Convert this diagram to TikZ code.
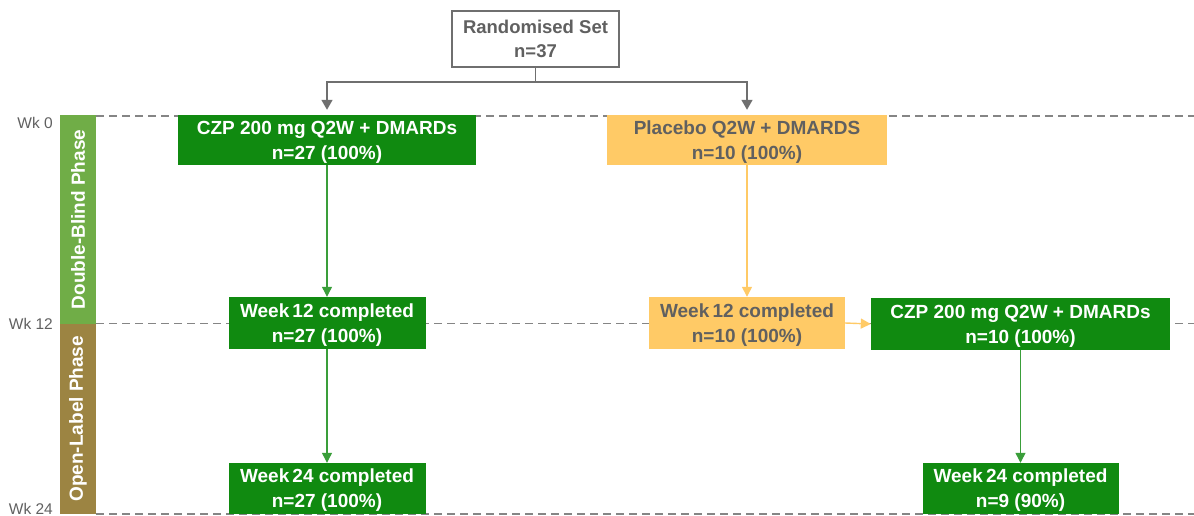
\documentclass[tikz,border=0pt]{standalone}
\usepackage{fontspec}
\setmainfont{Liberation Sans}
\usetikzlibrary{arrows.meta}
\definecolor{dgreen}{HTML}{108A10}
\definecolor{lgreen}{HTML}{3A9E3A}
\definecolor{phgreen}{HTML}{70AD47}
\definecolor{phbrown}{HTML}{9C8442}
\definecolor{yel}{HTML}{FFCA66}
\definecolor{gtext}{HTML}{606060}
\definecolor{gline}{HTML}{6F6F6F}
\definecolor{dline}{HTML}{858585}
\tikzset{
  box/.style={rectangle, inner sep=0pt, align=center, text depth=0pt, font=\bfseries\fontsize{19}{25}\selectfont},
  gbox/.style={box, fill=dgreen, text=white},
  ybox/.style={box, fill=yel, text=gtext},
  wbox/.style={box, draw=gline, line width=2.4pt, fill=white, text=gtext, font=\bfseries\fontsize{18.5}{24}\selectfont},
  phase/.style={rectangle, inner sep=0pt, minimum width=36pt},
  phtext/.style={rotate=90, text=white, font=\bfseries\fontsize{19}{22}\selectfont},
  wk/.style={anchor=east, text=gtext, font=\fontsize{15.5}{18}\selectfont, inner sep=0pt},
  wkline/.style={draw=dline, line width=1.2pt, dash pattern=on 8pt off 5pt},
  garr/.style={draw=lgreen, line width=1.2pt, -{Triangle[length=10pt,width=10pt]}},
  yarr/.style={draw=yel, line width=1.4pt, -{Triangle[length=10pt,width=10pt]}},
  karr/.style={draw=gline, line width=1.5pt, -{Triangle[length=10pt,width=11pt]}},
}
\begin{document}
\begin{tikzpicture}[x=1pt,y=-1pt]
\useasboundingbox (0,0) rectangle (1194,516);
% week lines
\coordinate (l0a) at (96,116); \coordinate (l0b) at (1194,116);
\coordinate (l12a) at (96,323.5); \coordinate (l12b) at (1194,323.5);
\coordinate (l24a) at (96,514); \coordinate (l24b) at (1194,514);
\draw[wkline] (l0a) -- (l0b);
\draw[wkline] (l12a) -- (l12b);
\draw[wkline] (l24a) -- (l24b);
% phase bars
\node[phase, fill=phgreen, minimum height=208pt] (db) at (78,219.5) {};
\node[phtext] (dbt) at (db.center) {Double-Blind Phase};
\node[phase, fill=phbrown, minimum height=190.5pt] (ol) at (78,418.75) {};
\node[phtext] (olt) at (ol.center) {Open-Label Phase};
% week labels
\node[wk] (w0) at (53,123) {Wk 0};
\node[wk] (w12) at (53,324) {Wk 12};
\node[wk] (w24) at (53,508.5) {Wk 24};
% boxes
\node[wbox, minimum width=167pt, minimum height=56pt] (rand) at (535.5,39) {Randomised Set\\n=37};
\node[gbox, minimum width=298pt, minimum height=50pt] (czp1) at (327,140) {CZP 200 mg Q2W + DMARDs\\n=27 (100\%)};
\node[ybox, minimum width=280pt, minimum height=50pt] (plc) at (747,140) {Placebo Q2W + DMARDS\\n=10 (100\%)};
\node[gbox, minimum width=197pt, minimum height=52pt] (w12a) at (327,323) {Week\,12 completed\\n=27 (100\%)};
\node[gbox, minimum width=197pt, minimum height=51pt] (w24a) at (327,488.5) {Week\,24 completed\\n=27 (100\%)};
\node[ybox, minimum width=196pt, minimum height=52pt] (w12b) at (747,323) {Week\,12 completed\\n=10 (100\%)};
\node[gbox, minimum width=299pt, minimum height=52pt] (czp2) at (1020.5,324) {CZP 200 mg Q2W + DMARDs\\n=10 (100\%)};
\node[gbox, minimum width=196pt, minimum height=51pt] (w24b) at (1020.5,488.5) {Week\,24 completed\\n=9 (90\%)};
% connectors
\coordinate (split) at (535.5,82);
\draw[gline, line width=1.5pt] (rand.south) -- (split);
\draw[karr] (split) -| ([yshift=5pt]czp1.north);
\draw[karr] (split) -| ([yshift=5pt]plc.north);
\draw[garr] (czp1.south) -- (w12a.north);
\draw[garr] (w12a.south) -- (w24a.north);
\draw[yarr] (plc.south) -- (w12b.north);
\draw[yarr] (w12b.east) -- (czp2.west);
\draw[garr] (czp2.south) -- (w24b.north);
\end{tikzpicture}
\end{document}
